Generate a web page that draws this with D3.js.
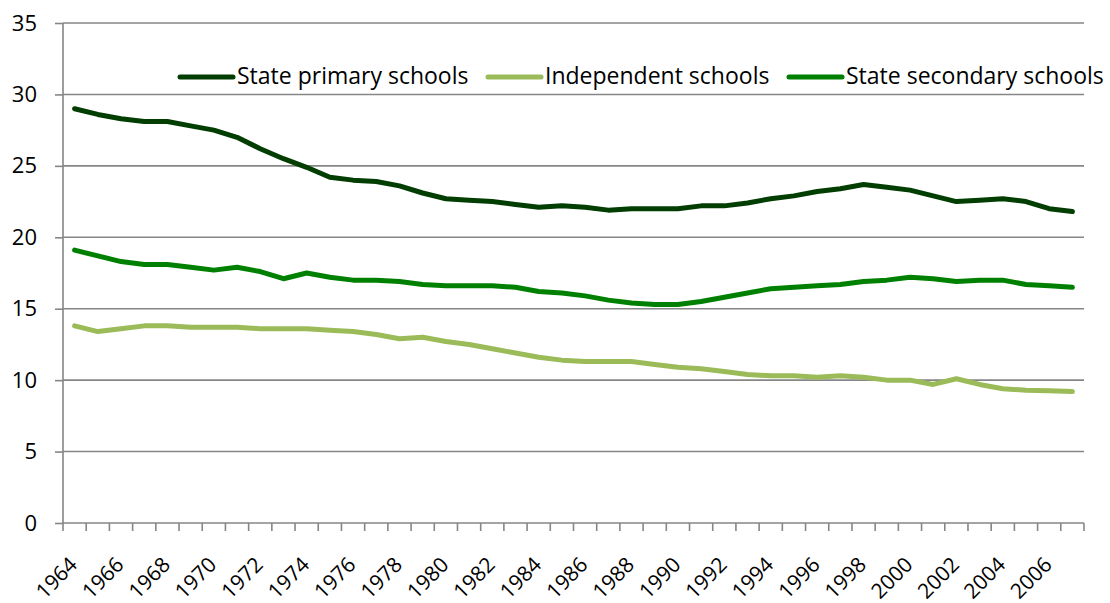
<!DOCTYPE html>
<html><head><meta charset="utf-8">
<script src="https://cdn.jsdelivr.net/npm/d3@7"></script>
<style>body{margin:0;background:#fff}svg{display:block}</style>
</head><body>
<svg id="c" width="1110" height="603"></svg>
<script>
const years = d3.range(1964, 2008);
const statePrimary = [29.0,28.6,28.3,28.1,28.1,27.8,27.5,27.0,26.2,25.5,24.9,24.2,24.0,23.9,23.6,23.1,22.7,22.6,22.5,22.3,22.1,22.2,22.1,21.9,22.0,22.0,22.0,22.2,22.2,22.4,22.7,22.9,23.2,23.4,23.7,23.5,23.3,22.9,22.5,22.6,22.7,22.5,22.0,21.8];
const independent = [13.8,13.4,13.6,13.8,13.8,13.7,13.7,13.7,13.6,13.6,13.6,13.5,13.4,13.2,12.9,13.0,12.7,12.5,12.2,11.9,11.6,11.4,11.3,11.3,11.3,11.1,10.9,10.8,10.6,10.4,10.3,10.3,10.2,10.3,10.2,10.0,10.0,9.7,10.1,9.7,9.4,9.3,9.25,9.2];
const stateSecondary = [19.1,18.7,18.3,18.1,18.1,17.9,17.7,17.9,17.6,17.1,17.5,17.2,17.0,17.0,16.9,16.7,16.6,16.6,16.6,16.5,16.2,16.1,15.9,15.6,15.4,15.3,15.3,15.5,15.8,16.1,16.4,16.5,16.6,16.7,16.9,17.0,17.2,17.1,16.9,17.0,17.0,16.7,16.6,16.5];
const yTicks = [0,5,10,15,20,25,30,35];
const seriesNames = ["State primary schools","Independent schools","State secondary schools"];
const seriesColors = ["#023d02","#9bbb59","#008000"];
const seriesData = [statePrimary, independent, stateSecondary];

const svg = d3.select("#c");
const L = 63, R = 1084, T = 23, B = 523;
const x = d3.scaleBand().domain(years).range([L, R]);
const y = d3.scaleLinear().domain([0, 35]).range([B, T]);
const font = "'Open Sans', 'Noto Sans', sans-serif";

// gridlines
svg.append("g").selectAll("line").data(yTicks.filter(d => d > 0)).join("line")
  .attr("x1", L).attr("x2", R).attr("y1", d => y(d)).attr("y2", d => y(d))
  .attr("stroke", "#868686").attr("stroke-width", 1.6);

// y axis
const ya = svg.append("g").attr("transform", `translate(${L},0)`)
  .call(d3.axisLeft(y).tickValues(yTicks).tickSize(8).tickPadding(18));
ya.select(".domain").attr("stroke", "#868686").attr("stroke-width", 1.6).attr("d", `M0,${T}V${B}`);
ya.selectAll(".tick line").attr("stroke", "#868686").attr("stroke-width", 1.6);
ya.selectAll("text").attr("font-family", font).attr("font-size", 22).attr("fill", "#000");

// x axis
const xa = svg.append("g").attr("transform", `translate(0,${B})`);
xa.append("line").attr("x1", L).attr("x2", R).attr("stroke", "#868686").attr("stroke-width", 1.6);
const bounds = years.map(d => x(d)).concat([R]);
xa.selectAll("line.t").data(bounds).join("line").attr("class","t")
  .attr("x1", d => d).attr("x2", d => d).attr("y1", 0).attr("y2", 8)
  .attr("stroke", "#868686").attr("stroke-width", 1.6);
xa.selectAll("text").data(years.filter(d => (d - 1964) % 2 === 0)).join("text")
  .attr("transform", d => `translate(${x(d) + x.bandwidth()/2 + 4},${43}) rotate(-45)`)
  .attr("text-anchor", "end").attr("font-family", font).attr("font-size", 21).attr("fill", "#000")
  .text(d => d);

// lines
const line = d3.line().x((d, i) => x(years[i]) + x.bandwidth()/2).y(d => y(d));
seriesData.forEach((s, k) => {
  svg.append("path").datum(s).attr("d", line).attr("fill", "none")
    .attr("stroke", seriesColors[k]).attr("stroke-width", 5)
    .attr("stroke-linejoin", "round").attr("stroke-linecap", "round");
});

// legend
const legX = [180, 488, 789];
const lg = svg.append("g");
seriesNames.forEach((n, k) => {
  lg.append("line").attr("x1", legX[k]).attr("x2", legX[k] + 53).attr("y1", 77).attr("y2", 77)
    .attr("stroke", seriesColors[k]).attr("stroke-width", 5).attr("stroke-linecap", "round");
  lg.append("text").attr("x", legX[k] + 57).attr("y", 76).attr("dy", "0.35em")
    .attr("font-family", font).attr("font-size", 23).attr("fill", "#000").text(n);
});
</script>
</body></html>
